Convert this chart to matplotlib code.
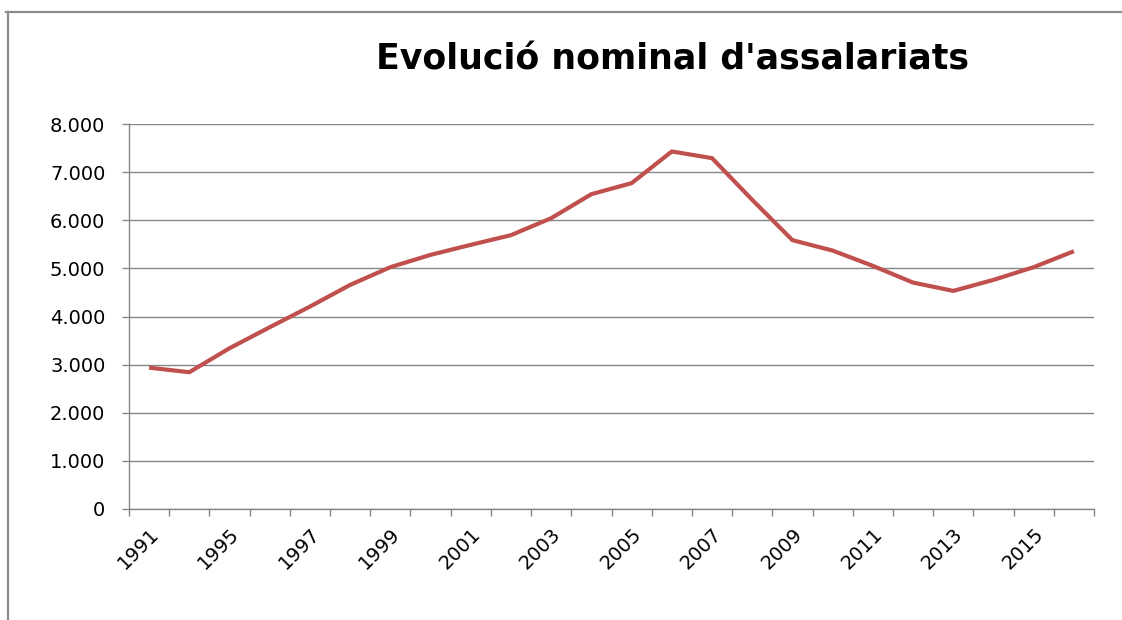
import matplotlib
matplotlib.use("Agg")
import matplotlib.pyplot as plt
from matplotlib.lines import Line2D
from matplotlib.ticker import FuncFormatter, FixedLocator

title = "Evolució nominal d'assalariats"
years = ["1991", "1993", "1995", "1996", "1997", "1998", "1999", "2000",
         "2001", "2002", "2003", "2004", "2005", "2006", "2007", "2008",
         "2009", "2010", "2011", "2012", "2013", "2014", "2015", "2016"]
values = [2937, 2842, 3341, 3777, 4206, 4657, 5025, 5281,
          5489, 5690, 6043, 6542, 6771, 7429, 7291, 6424,
          5586, 5370, 5052, 4705, 4532, 4761, 5025, 5357]
y_ticks = [0, 1000, 2000, 3000, 4000, 5000, 6000, 7000, 8000]

W, H = 1122, 620
fig = plt.figure(figsize=(W / 100, H / 100), dpi=100)
fig.patch.set_facecolor("white")
ax = fig.add_axes([129 / W, 1 - 509 / H, (1094 - 129) / W, (509 - 124) / H])

n = len(years)
xs = [i + 0.5 for i in range(n)]
ax.plot(xs, values, color="#C0504D", linewidth=3.0, solid_joinstyle="round",
        solid_capstyle="butt", zorder=3)

ax.set_xlim(0, n)
ax.set_ylim(0, 8000)
grid_col = "#868686"
ax.yaxis.set_major_locator(FixedLocator(y_ticks))
ax.yaxis.set_major_formatter(FuncFormatter(lambda v, p: f"{int(v):,}".replace(",", ".")))
ax.grid(axis="y", color=grid_col, linewidth=1.0)
ax.set_axisbelow(True)

# category boundary ticks
ax.set_xticks(range(n + 1))
ax.set_xticklabels([])
ax.set_xticks(xs[::2], minor=True)
ax.set_xticklabels(years[::2], minor=True, rotation=45, ha="right",
                   rotation_mode="anchor", fontsize=14, family="DejaVu Sans")
ax.tick_params(axis="x", which="major", length=5, width=1, color=grid_col, direction="out")
ax.tick_params(axis="x", which="minor", length=0, pad=11)
ax.tick_params(axis="y", length=5, width=1, color=grid_col, direction="out", pad=12,
               labelsize=14)
for lab in ax.get_yticklabels():
    lab.set_family("DejaVu Sans")

for s in ["top", "right"]:
    ax.spines[s].set_visible(False)
for s in ["left", "bottom"]:
    ax.spines[s].set_color(grid_col)
    ax.spines[s].set_linewidth(1.0)

fig.text(673 / W, 1 - 70 / H, title, ha="center", va="baseline",
         fontsize=25, fontweight="bold", family="DejaVu Sans")

# outer chart border (top and left visible)
border_col = "#8C8C8C"
fig.add_artist(Line2D([6 / W, 1], [1 - 12 / H, 1 - 12 / H], color=border_col,
                      linewidth=1.6, transform=fig.transFigure))
fig.add_artist(Line2D([8 / W, 8 / W], [0, 1 - 12 / H], color=border_col,
                      linewidth=1.6, transform=fig.transFigure))

fig.savefig("out.png", dpi=100, facecolor="white")
